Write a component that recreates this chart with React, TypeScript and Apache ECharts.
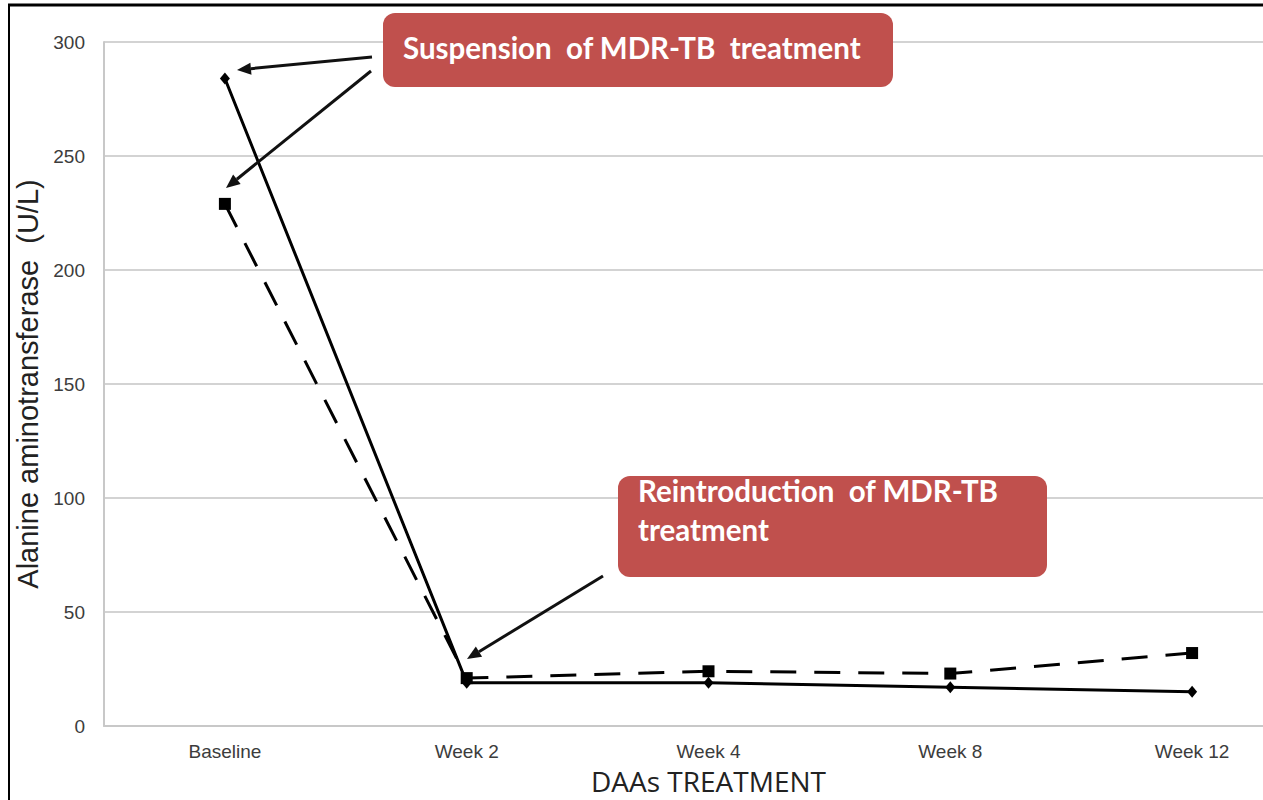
import React, { useEffect, useRef } from "react";
import * as echarts from "echarts";

const categories = ["Baseline", "Week 2", "Week 4", "Week 8", "Week 12"];
const solidSeries = [284, 19, 19, 17, 15];
const dashedSeries = [229, 21, 24, 23, 32];
const yTicks = [0, 50, 100, 150, 200, 250, 300];

const annotations = [
  { lines: ["Suspension  of MDR-TB  treatment"], x: 383, y: 13, w: 510, h: 74 },
  { lines: ["Reintroduction  of MDR-TB", "treatment"], x: 618, y: 476, w: 429, h: 101 },
];

const arrows = [
  [372, 57, 237, 70],
  [371, 71, 226, 188],
  [603, 576, 467, 659],
];

function arrowGraphics(a: number[]) {
  const [x1, y1, x2, y2] = a;
  const dx = x2 - x1, dy = y2 - y1;
  const len = Math.sqrt(dx * dx + dy * dy);
  const ux = dx / len, uy = dy / len;
  const hl = 14, hw = 6;
  const bx = x2 - ux * hl, by = y2 - uy * hl;
  return [
    {
      type: "line",
      shape: { x1, y1, x2: bx, y2: by },
      style: { stroke: "#111", lineWidth: 3 },
      z: 100,
    },
    {
      type: "polygon",
      shape: {
        points: [
          [x2, y2],
          [bx - uy * hw, by + ux * hw],
          [bx + uy * hw, by - ux * hw],
        ],
      },
      style: { fill: "#111" },
      z: 100,
    },
  ];
}

export default function App() {
  const ref = useRef<HTMLDivElement>(null);
  useEffect(() => {
    if (!ref.current) return;
    const chart = echarts.init(ref.current, null, { renderer: "svg" });
    const graphics: any[] = [
      { type: "line", shape: { x1: 8, y1: 5, x2: 1263, y2: 5 }, style: { stroke: "#000", lineWidth: 3 } },
      { type: "line", shape: { x1: 9, y1: 5, x2: 9, y2: 800 }, style: { stroke: "#000", lineWidth: 2 } },
    ];
    annotations.forEach((an) => {
      graphics.push({
        type: "rect",
        shape: { x: an.x, y: an.y, width: an.w, height: an.h, r: 12 },
        style: { fill: "#C0504D" },
        z: 100,
      });
      graphics.push({
        type: "text",
        x: an.x + 20,
        y: an.lines.length === 1 ? an.y + an.h / 2 - 3 : an.y + 34,
        style: {
          text: an.lines.join("\n"),
          fill: "#fff",
          font: "bold 29.5px Lato",
          lineHeight: 39,
          verticalAlign: "middle",
          align: "left",
        },
        z: 101,
      });
    });
    arrows.forEach((a) => graphics.push(...arrowGraphics(a)));

    chart.setOption({
      animation: false,
      backgroundColor: "#fff",
      grid: { left: 104, right: 0, top: 42, bottom: 70 },
      xAxis: {
        type: "category",
        data: categories,
        boundaryGap: true,
        axisLine: { show: true, lineStyle: { color: "#c8c8c8", width: 2 } },
        axisTick: { show: false },
        axisLabel: { color: "#3c3c3c", fontFamily: "Liberation Sans", fontSize: 19, margin: 16 },
        name: "DAAs TREATMENT",
        nameLocation: "middle",
        nameGap: 41,
        nameTextStyle: { color: "#222", fontFamily: "Open Sans", fontSize: 28 },
      },
      yAxis: {
        type: "value",
        min: 0,
        max: 300,
        interval: 50,
        axisLine: { show: true, lineStyle: { color: "#c8c8c8", width: 2 } },
        axisTick: { show: false },
        axisLabel: {
          color: "#3c3c3c",
          fontFamily: "Liberation Sans",
          fontSize: 19,
          margin: 19,
          formatter: (v: number) => (yTicks.includes(v) ? String(v) : ""),
        },
        splitLine: { show: true, lineStyle: { color: "#d3d3d3", width: 2 } },
        name: "Alanine aminotransferase  (U/L)",
        nameLocation: "middle",
        nameGap: 62,
        nameTextStyle: { color: "#222", fontFamily: "Liberation Sans", fontSize: 29 },
      },
      series: [
        {
          type: "line",
          data: dashedSeries,
          symbol: "rect",
          symbolSize: 12,
          itemStyle: { color: "#000" },
          lineStyle: { color: "#000", width: 3, type: [26, 18] },
          z: 3,
        },
        {
          type: "line",
          data: solidSeries,
          symbol: "diamond",
          symbolSize: [10, 12],
          itemStyle: { color: "#000" },
          lineStyle: { color: "#000", width: 3 },
          z: 4,
        },
      ],
      graphic: graphics,
    });
    return () => chart.dispose();
  }, []);
  return (
    <div style={{ position: "fixed", left: 0, top: 0, width: 1263, height: 800, overflow: "hidden" }}>
      <div ref={ref} style={{ position: "absolute", left: 0, top: 0, width: 1313, height: 800 }} />
    </div>
  );
}
